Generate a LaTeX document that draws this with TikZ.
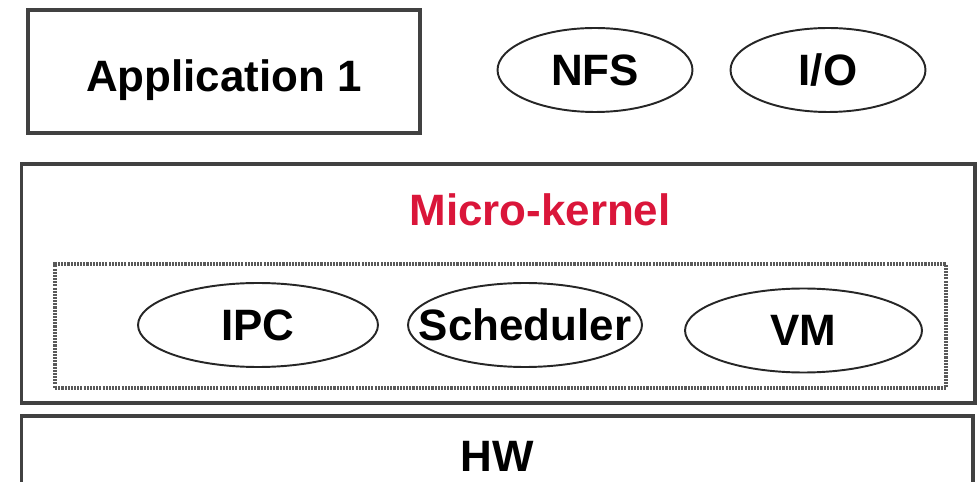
\documentclass[tikz,border=0pt]{standalone}
\usepackage{fontspec}
\setmainfont{Liberation Sans}
\usetikzlibrary{shapes.geometric}
\definecolor{kernelred}{RGB}{218,22,58}
\definecolor{edgegray}{RGB}{65,65,65}

\begin{document}
\begin{tikzpicture}[x=0.02cm, y=-0.02cm,
        font=\fontsize{25}{30}\selectfont\bfseries,
        layer/.style={shape=rectangle, draw=edgegray, line width=1.8pt, inner sep=0pt},
        oval/.style={shape=ellipse, draw=black!85, line width=1.1pt, inner sep=0pt,
            minimum height=1.68cm}]
            \useasboundingbox (0,0) rectangle (979,482);
            % user space
            \node[layer, minimum width=7.84cm, minimum height=2.46cm] (App) at (224,71.5) {};
            \node (AppName) at (224,80) {Application 1};
            \node[oval, minimum width=3.9cm] (NFS) at (595,70) {NFS};
            \node[oval, minimum width=3.9cm] (IO) at (828,70) {I/O};
            % kernel
            \node[layer, minimum width=19.08cm, minimum height=4.78cm] (Kernel) at (498,283.5) {};
            \node[text=kernelred] (KernelName) at (540,210) {Micro-kernel};
            \node[shape=rectangle, draw=black!65, line width=2pt, dash pattern=on 1.2pt off 0.6pt,
                minimum width=17.82cm, minimum height=2.48cm] (Core) at (500.5,326) {};
            \node[oval, minimum width=4.8cm] (IPC) at (258,325) {IPC};
            \node[oval, minimum width=4.68cm] (Scheduler) at (525,325) {\makebox[0pt]{Scheduler}};
            \node[oval, minimum width=4.74cm] (VM) at (803.5,330.5) {VM};
            % hardware
            \node[layer, minimum width=19.04cm, minimum height=1.6cm] (HW) at (497,456) {HW};
        \end{tikzpicture}
\end{document}
